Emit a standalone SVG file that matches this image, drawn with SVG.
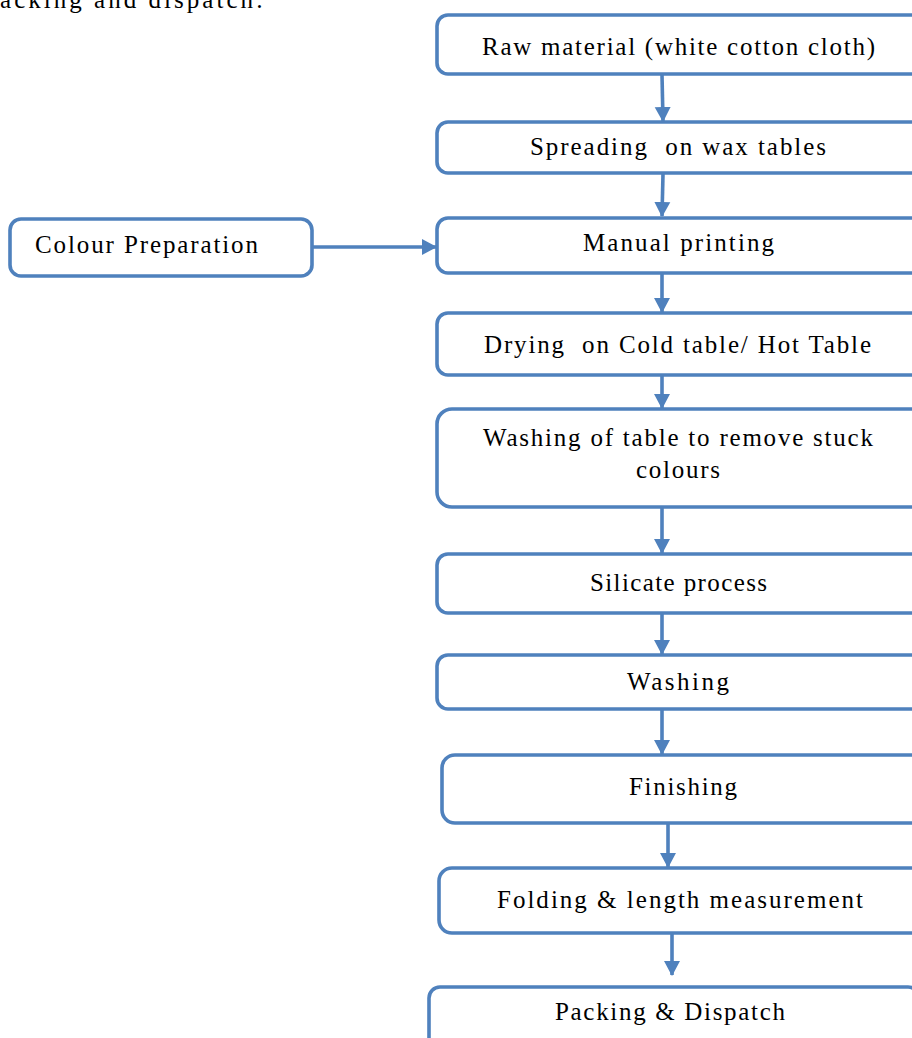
<svg xmlns="http://www.w3.org/2000/svg" width="912" height="1038" viewBox="0 0 912 1038">
<style>
.box{fill:#fff;stroke:#4F81BD;stroke-width:3.6}
.t{font-family:"Liberation Serif","Times New Roman",serif;font-size:25px;fill:#000;text-anchor:start;white-space:pre}
.c{stroke:#4F81BD;stroke-width:3.6;fill:none}
</style>
<defs>
<marker id="ah" markerWidth="17" markerHeight="17" refX="14" refY="8.5" orient="auto" markerUnits="userSpaceOnUse">
<path d="M0,0.5 L15,8.5 L0,16.5 Z" fill="#4F81BD"/>
</marker>
</defs>
<rect width="912" height="1038" fill="#fff"/>
<text class="t" x="0" y="8" textLength="263" lengthAdjust="spacing">acking and dispatch:</text>
<g id="connectors">
<line class="c" x1="662" y1="75" x2="663" y2="121" marker-end="url(#ah)"/>
<line class="c" x1="663" y1="174" x2="662" y2="216" marker-end="url(#ah)"/>
<line class="c" x1="312" y1="247" x2="436" y2="247" marker-end="url(#ah)"/>
<line class="c" x1="662" y1="274" x2="662" y2="312" marker-end="url(#ah)"/>
<line class="c" x1="662" y1="376" x2="662" y2="408" marker-end="url(#ah)"/>
<line class="c" x1="662" y1="508" x2="662" y2="553" marker-end="url(#ah)"/>
<line class="c" x1="662" y1="614" x2="662" y2="654" marker-end="url(#ah)"/>
<line class="c" x1="662" y1="710" x2="662" y2="754" marker-end="url(#ah)"/>
<line class="c" x1="668" y1="824" x2="668" y2="867" marker-end="url(#ah)"/>
<line class="c" x1="672" y1="934" x2="672" y2="975" marker-end="url(#ah)"/>
</g>
<g id="n1"><rect class="box" x="437" y="15" width="490" height="59" rx="11"/><text class="t" x="482" y="55" textLength="393" lengthAdjust="spacing">Raw material (white cotton cloth)</text></g>
<g id="n2"><rect class="box" x="437" y="122" width="490" height="51" rx="11"/><text class="t" x="530" y="155" textLength="296" lengthAdjust="spacing">Spreading  on wax tables</text></g>
<g id="n3"><rect class="box" x="437" y="218" width="490" height="55" rx="11"/><text class="t" x="583" y="251" textLength="191" lengthAdjust="spacing">Manual printing</text></g>
<g id="cp"><rect class="box" x="10" y="219" width="302" height="57" rx="11"/><text class="t" x="35" y="253" textLength="223" lengthAdjust="spacing">Colour Preparation</text></g>
<g id="n4"><rect class="box" x="437" y="313" width="490" height="62" rx="11"/><text class="t" x="484" y="353" textLength="387" lengthAdjust="spacing">Drying  on Cold table/ Hot Table</text></g>
<g id="n5"><rect class="box" x="437" y="409" width="490" height="98" rx="15"/><text class="t" x="483" y="446" textLength="390" lengthAdjust="spacing">Washing of table to remove stuck</text><text class="t" x="636" y="478" textLength="84" lengthAdjust="spacing">colours</text></g>
<g id="n6"><rect class="box" x="437" y="554" width="490" height="59" rx="11"/><text class="t" x="590" y="591" textLength="177" lengthAdjust="spacing">Silicate process</text></g>
<g id="n7"><rect class="box" x="437" y="655" width="490" height="54" rx="11"/><text class="t" x="627" y="690" textLength="102" lengthAdjust="spacing">Washing</text></g>
<g id="n8"><rect class="box" x="442" y="755" width="490" height="68" rx="13"/><text class="t" x="629" y="795" textLength="108" lengthAdjust="spacing">Finishing</text></g>
<g id="n9"><rect class="box" x="439" y="868" width="490" height="65" rx="13"/><text class="t" x="497" y="908" textLength="366" lengthAdjust="spacing">Folding &amp; length measurement</text></g>
<g id="n10"><rect class="box" x="429" y="987" width="490" height="70" rx="11"/><text class="t" x="555" y="1020" textLength="230" lengthAdjust="spacing">Packing &amp; Dispatch</text></g>
</svg>
